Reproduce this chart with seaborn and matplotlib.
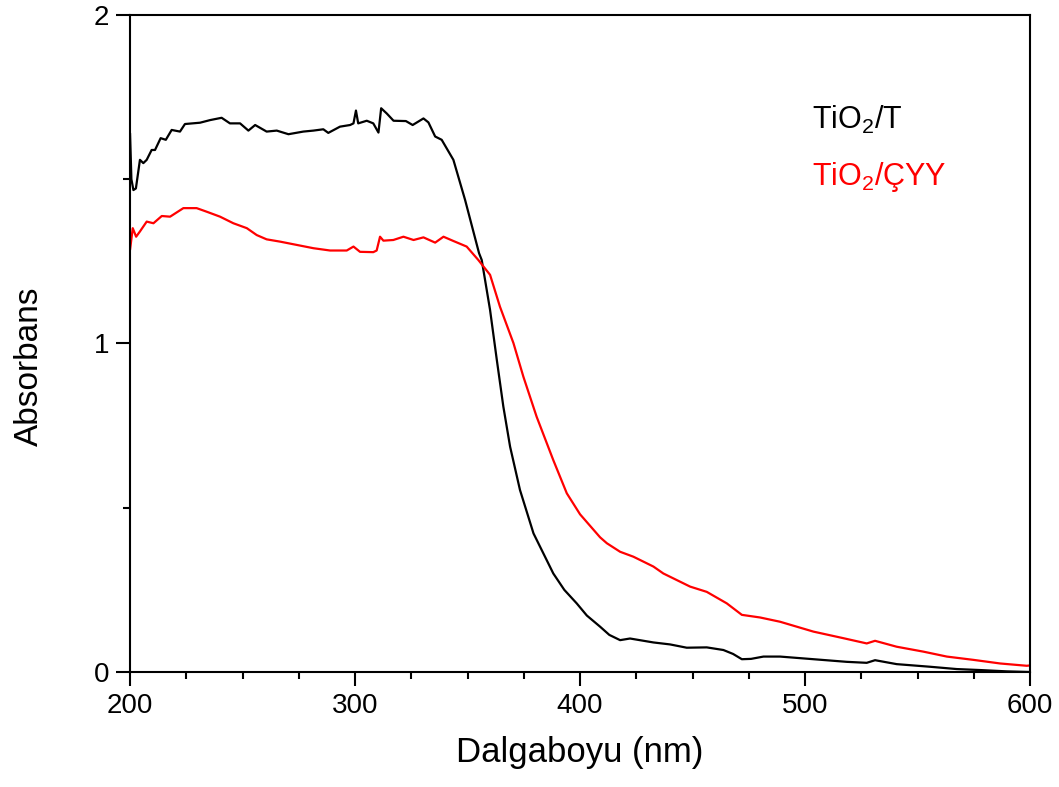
import matplotlib.pyplot as plt
import numpy as np
import pandas as pd
import seaborn as sns
from matplotlib.ticker import MultipleLocator

# Values (wavelength in nm, absorbance)
t_wavelength = [
    200.0, 200.6, 201.5, 202.6, 204.4, 205.9, 207.4, 209.6, 211.1, 213.6, 215.9,
    218.5, 222.2, 224.4, 231.1, 235.6, 240.7, 244.4, 248.9, 252.6, 255.6, 260.7,
    265.2, 270.4, 277.0, 281.5, 285.9, 288.1, 293.3, 297.8, 299.3, 300.4, 301.4,
    305.2, 308.1, 310.4, 311.6, 314.1, 317.1, 322.6, 325.6, 330.4, 332.6, 335.6,
    338.5, 343.7, 348.9, 355.1, 356.3, 360.0, 363.0, 365.9, 368.9, 373.3, 379.3,
    388.1, 393.0, 398.5, 403.0, 408.9, 413.0, 417.8, 422.2, 432.6, 440.0, 447.4,
    456.3, 463.7, 468.0, 471.9, 476.0, 481.5, 488.9, 503.7, 518.5, 527.4, 531.1,
    540.7, 555.6, 567.4, 577.8, 589.6, 600.0,
]
t_absorbance = [
    1.640, 1.500, 1.467, 1.472, 1.559, 1.549, 1.559, 1.589, 1.589, 1.625, 1.620,
    1.650, 1.645, 1.668, 1.672, 1.680, 1.687, 1.670, 1.670, 1.648, 1.665, 1.645,
    1.648, 1.637, 1.645, 1.648, 1.652, 1.641, 1.660, 1.665, 1.670, 1.709, 1.670,
    1.678, 1.670, 1.642, 1.716, 1.700, 1.678, 1.677, 1.665, 1.685, 1.673, 1.630,
    1.620, 1.559, 1.437, 1.275, 1.254, 1.102, 0.950, 0.808, 0.686, 0.554, 0.422,
    0.300, 0.250, 0.209, 0.172, 0.138, 0.113, 0.097, 0.102, 0.090, 0.084, 0.074,
    0.075, 0.067, 0.055, 0.039, 0.040, 0.047, 0.047, 0.039, 0.031, 0.028, 0.036,
    0.024, 0.016, 0.009, 0.006, 0.002, 0.000,
]

cyy_wavelength = [
    200.0, 201.2, 202.7, 204.4, 207.4, 210.4, 214.1, 217.8, 223.7, 229.6, 234.1,
    240.0, 245.9, 251.9, 256.3, 260.7, 266.7, 274.1, 281.5, 288.9, 296.3, 299.3,
    302.2, 308.1, 309.6, 311.1, 312.6, 317.0, 321.5, 326.0, 330.4, 335.6, 339.3,
    343.7, 349.6, 354.8, 360.0, 364.4, 370.4, 374.8, 380.7, 388.1, 394.1, 400.0,
    408.9, 411.9, 417.8, 423.7, 432.6, 437.0, 448.9, 456.3, 465.2, 471.9, 480.0,
    488.9, 503.7, 517.0, 527.4, 531.1, 540.7, 552.6, 563.0, 574.8, 586.7, 598.5,
    600.0,
]
cyy_absorbance = [
    1.285, 1.351, 1.325, 1.341, 1.371, 1.366, 1.388, 1.386, 1.412, 1.412, 1.401,
    1.386, 1.366, 1.351, 1.330, 1.317, 1.310, 1.300, 1.290, 1.283, 1.283, 1.295,
    1.279, 1.278, 1.283, 1.325, 1.313, 1.315, 1.325, 1.315, 1.323, 1.307, 1.325,
    1.312, 1.295, 1.254, 1.209, 1.112, 1.001, 0.899, 0.777, 0.645, 0.544, 0.480,
    0.410, 0.392, 0.366, 0.351, 0.321, 0.300, 0.260, 0.244, 0.209, 0.174, 0.166,
    0.153, 0.123, 0.103, 0.087, 0.095, 0.077, 0.062, 0.047, 0.037, 0.026, 0.019,
    0.020,
]

labels = ["TiO$_\\mathrm{2}$/T", "TiO$_\\mathrm{2}$/ÇYY"]
colors = ["black", "red"]

df = pd.concat(
    [
        pd.DataFrame({"wl": t_wavelength, "abs": t_absorbance, "sample": labels[0]}),
        pd.DataFrame({"wl": cyy_wavelength, "abs": cyy_absorbance, "sample": labels[1]}),
    ],
    ignore_index=True,
)

sns.set_theme(
    style="ticks",
    rc={
        "text.color": "black",
        "axes.labelcolor": "black",
        "axes.edgecolor": "black",
        "xtick.color": "black",
        "ytick.color": "black",
    },
)
plt.rcParams["font.family"] = ["Liberation Sans", "DejaVu Sans"]
plt.rcParams["mathtext.fontset"] = "custom"
plt.rcParams["mathtext.rm"] = "Liberation Sans"
plt.rcParams["mathtext.it"] = "Liberation Sans:italic"

fig = plt.figure(figsize=(10.59, 7.87), dpi=100)
ax = fig.add_axes([0.1228, 0.1461, 0.8499, 0.8349])

sns.lineplot(
    data=df,
    x="wl",
    y="abs",
    hue="sample",
    palette=dict(zip(labels, colors)),
    estimator=None,
    linewidth=1.6,
    legend=False,
    ax=ax,
)

ax.set_xlim(200, 600)
ax.set_ylim(0, 2)
ax.xaxis.set_major_locator(MultipleLocator(100))
ax.xaxis.set_minor_locator(MultipleLocator(25))
ax.yaxis.set_major_locator(MultipleLocator(1))
ax.yaxis.set_minor_locator(MultipleLocator(0.5))

for side in ["left", "right", "top", "bottom"]:
    ax.spines[side].set_visible(True)
    ax.spines[side].set_linewidth(1.5)
    ax.spines[side].set_color("black")

ax.tick_params(axis="both", which="major", direction="out", length=10, width=1.5,
               labelsize=20, pad=5, color="black", labelcolor="black")
ax.tick_params(axis="both", which="minor", direction="out", length=5, width=1.5, color="black")

ax.set_xlabel("Dalgaboyu (nm)", fontsize=25, labelpad=12, color="black")
ax.set_ylabel("Absorbans", fontsize=24, color="black")
ax.yaxis.set_label_coords(-0.095, 0.465)

# Coloured text labels in place of a legend
ax.text(0.758, 0.826, labels[0], color=colors[0], fontsize=22, transform=ax.transAxes, va="baseline")
ax.text(0.758, 0.741, labels[1], color=colors[1], fontsize=22, transform=ax.transAxes, va="baseline")

fig.savefig("out.png", dpi=100)
